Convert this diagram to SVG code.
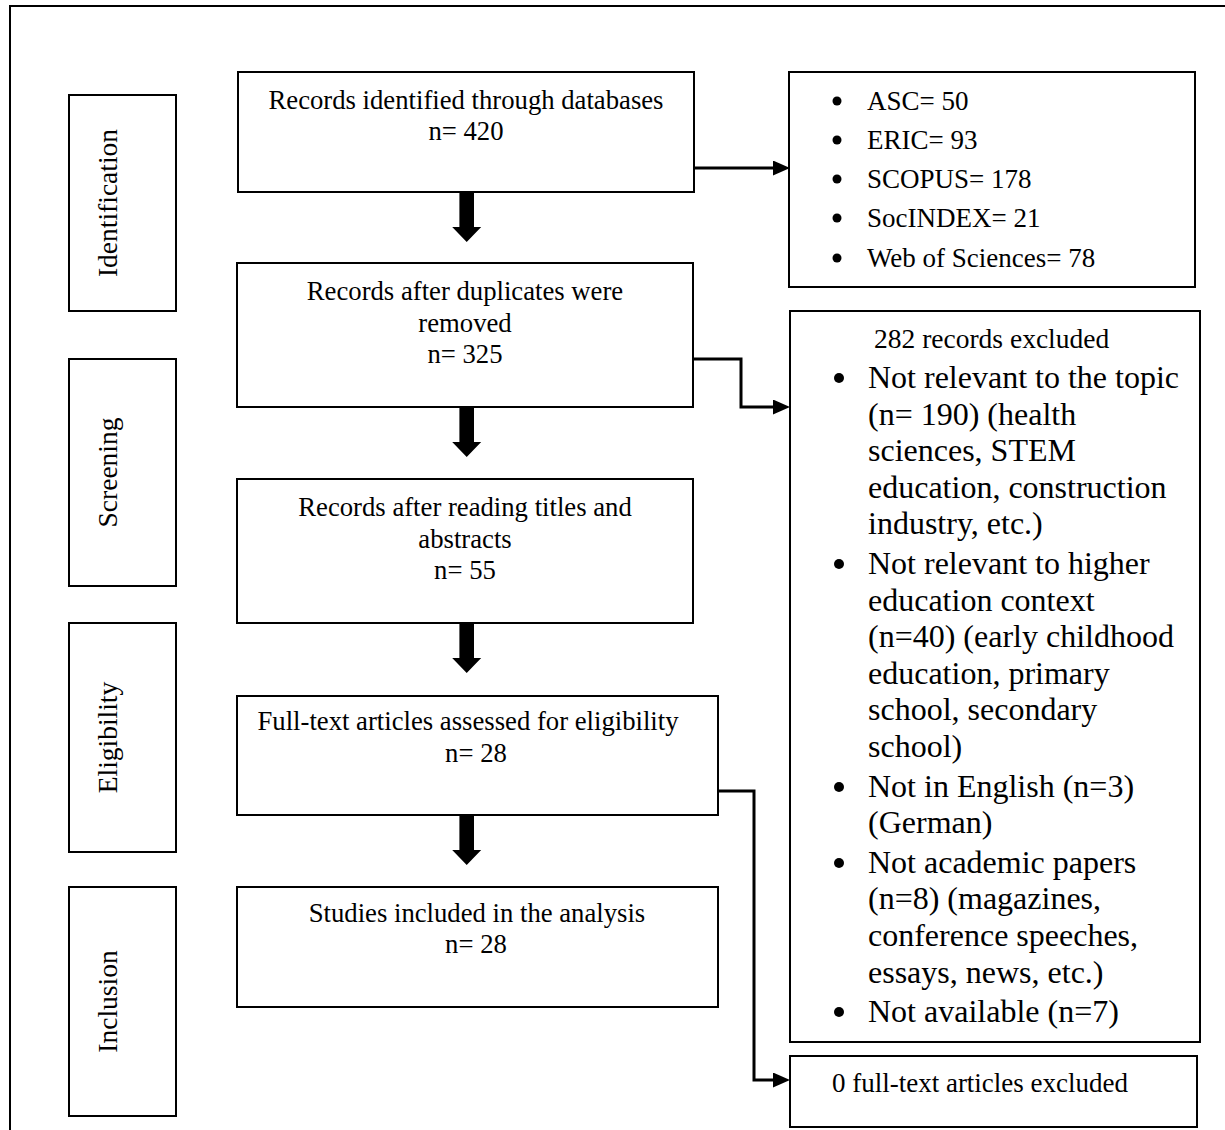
<svg xmlns="http://www.w3.org/2000/svg" width="1225" height="1130" viewBox="0 0 1225 1130">
<style>
  .box{fill:#fff;stroke:#000;stroke-width:2}
  .t{font-family:"Liberation Serif","Times New Roman",serif;font-size:26.7px;fill:#000}
  .c{text-anchor:middle}
  .big{font-family:"Liberation Serif","Times New Roman",serif;font-size:32px;fill:#000}
  .conn{fill:none;stroke:#000;stroke-width:3}
  .thick{fill:#000}
</style>
<defs>
  <marker id="ah" markerUnits="userSpaceOnUse" viewBox="0 0 17 15" refX="0" refY="7.5" markerWidth="17" markerHeight="15" orient="auto">
    <path d="M0,0 L17,7.5 L0,15 Z" fill="#000"/>
  </marker>
  <path id="down" d="M-7.3,0 H7.3 V35 H14.5 L0,50 L-14.5,35 H-7.3 Z"/>
</defs>
<rect width="1225" height="1130" fill="#fff"/>
<path d="M10,1130 V6 H1225" fill="none" stroke="#000" stroke-width="2"/>

<g id="stage-identification">
  <rect class="box" x="69" y="95" width="107" height="216"/>
  <text class="t c" transform="translate(117,203) rotate(-90)" style="font-size:27.5px">Identification</text>
</g>
<g id="stage-screening">
  <rect class="box" x="69" y="359" width="107" height="227"/>
  <text class="t c" transform="translate(117,472.5) rotate(-90)" style="font-size:27.5px">Screening</text>
</g>
<g id="stage-eligibility">
  <rect class="box" x="69" y="623" width="107" height="229"/>
  <text class="t c" transform="translate(117,737.5) rotate(-90)" style="font-size:27.5px">Eligibility</text>
</g>
<g id="stage-inclusion">
  <rect class="box" x="69" y="887" width="107" height="229"/>
  <text class="t c" transform="translate(117,1001.5) rotate(-90)" style="font-size:27.5px">Inclusion</text>
</g>

<g id="identified">
  <rect class="box" x="238" y="72" width="456" height="120"/>
  <text class="t c" x="466" y="109">Records identified through databases</text>
  <text class="t c" x="466" y="140">n= 420</text>
</g>
<g id="duplicates">
  <rect class="box" x="237" y="263" width="456" height="144"/>
  <text class="t c" x="465" y="300">Records after duplicates were</text>
  <text class="t c" x="465" y="332">removed</text>
  <text class="t c" x="465" y="363">n= 325</text>
</g>
<g id="titles">
  <rect class="box" x="237" y="479" width="456" height="144"/>
  <text class="t c" x="465" y="516">Records after reading titles and</text>
  <text class="t c" x="465" y="548">abstracts</text>
  <text class="t c" x="465" y="579">n= 55</text>
</g>
<g id="fulltext">
  <rect class="box" x="237" y="696" width="481" height="119"/>
  <text class="t c" x="468" y="730">Full-text articles assessed for eligibility</text>
  <text class="t c" x="476" y="762">n= 28</text>
</g>
<g id="included">
  <rect class="box" x="237" y="887" width="481" height="120"/>
  <text class="t c" x="477" y="922">Studies included in the analysis</text>
  <text class="t c" x="476" y="953">n= 28</text>
</g>

<g id="databases">
  <rect class="box" x="789" y="72" width="406" height="215"/>
  <circle cx="837" cy="101" r="4.5"/>
  <text class="t" x="867" y="110" style="font-size:27px">ASC= 50</text>
  <circle cx="837" cy="140" r="4.5"/>
  <text class="t" x="867" y="149" style="font-size:27px">ERIC= 93</text>
  <circle cx="837" cy="179" r="4.5"/>
  <text class="t" x="867" y="188" style="font-size:27px">SCOPUS= 178</text>
  <circle cx="837" cy="218" r="4.5"/>
  <text class="t" x="867" y="227" style="font-size:27px">SocINDEX= 21</text>
  <circle cx="837" cy="258" r="4.5"/>
  <text class="t" x="867" y="267" style="font-size:27px">Web of Sciences= 78</text>
</g>

<g id="excluded-records">
  <rect class="box" x="790" y="311" width="410" height="731"/>
  <text class="t" x="874" y="348" style="font-size:27.5px">282 records excluded</text>
  <circle cx="839" cy="378" r="5"/>
  <text class="big" x="868" y="388">Not relevant to the topic</text>
  <text class="big" x="868" y="424.6">(n= 190) (health</text>
  <text class="big" x="868" y="461.2">sciences, STEM</text>
  <text class="big" x="868" y="497.8">education, construction</text>
  <text class="big" x="868" y="534.4">industry, etc.)</text>
  <circle cx="839" cy="564" r="5"/>
  <text class="big" x="868" y="574">Not relevant to higher</text>
  <text class="big" x="868" y="610.6">education context</text>
  <text class="big" x="868" y="647.2">(n=40) (early childhood</text>
  <text class="big" x="868" y="683.8">education, primary</text>
  <text class="big" x="868" y="720.4">school, secondary</text>
  <text class="big" x="868" y="757">school)</text>
  <circle cx="839" cy="787" r="5"/>
  <text class="big" x="868" y="796.6">Not in English (n=3)</text>
  <text class="big" x="868" y="833.2">(German)</text>
  <circle cx="839" cy="863" r="5"/>
  <text class="big" x="868" y="872.8">Not academic papers</text>
  <text class="big" x="868" y="909.4">(n=8) (magazines,</text>
  <text class="big" x="868" y="946">conference speeches,</text>
  <text class="big" x="868" y="982.6">essays, news, etc.)</text>
  <circle cx="839" cy="1012" r="5"/>
  <text class="big" x="868" y="1022.2">Not available (n=7)</text>
</g>

<g id="excluded-fulltext">
  <rect class="box" x="790" y="1056" width="407" height="71"/>
  <text class="t c" x="980" y="1092" style="font-size:27px">0 full-text articles excluded</text>
</g>

<g id="connectors">
  <use href="#down" class="thick" x="466.7" y="192"/>
  <use href="#down" class="thick" x="466.7" y="407"/>
  <use href="#down" class="thick" x="466.7" y="623"/>
  <use href="#down" class="thick" x="466.7" y="815"/>
  <path class="conn" d="M694,168 H773" marker-end="url(#ah)"/>
  <path class="conn" d="M693,359 H741 V407 H773" marker-end="url(#ah)"/>
  <path class="conn" d="M718,791 H754 V1080 H773" marker-end="url(#ah)"/>
</g>
</svg>
